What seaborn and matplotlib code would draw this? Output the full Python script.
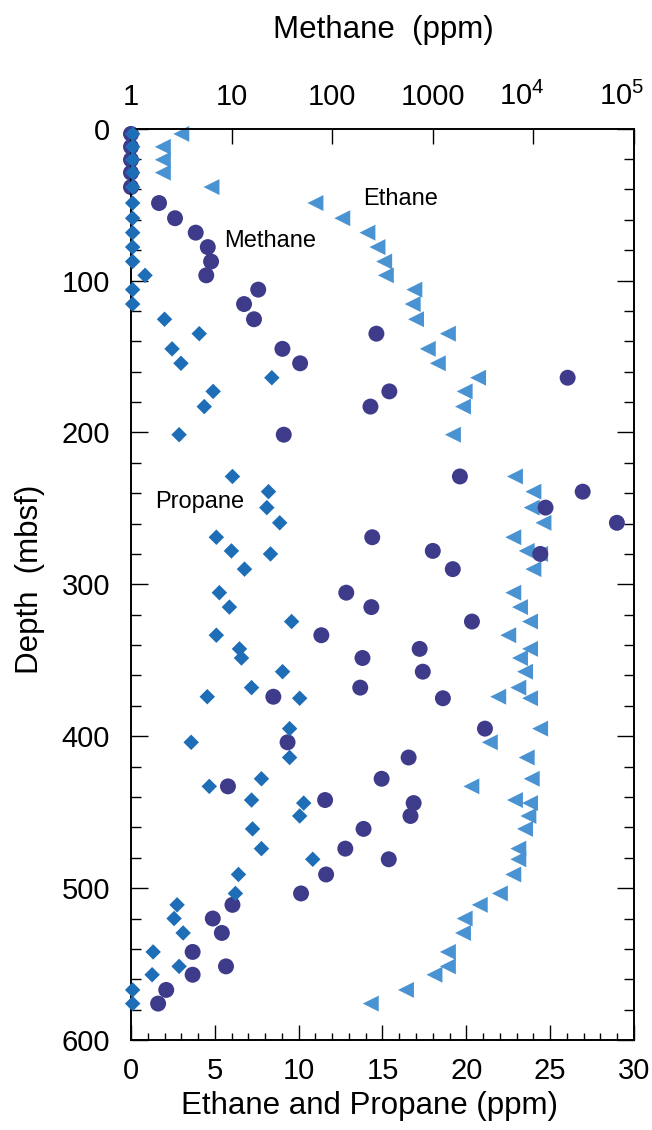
import numpy as np
import pandas as pd
import seaborn as sns
import matplotlib
matplotlib.use('Agg')
import matplotlib.pyplot as plt
from matplotlib.ticker import MultipleLocator, FixedLocator, FixedFormatter, LogLocator, NullFormatter
from matplotlib.transforms import ScaledTranslation

# depth of each sample (mbsf)
depth = [3.5, 12, 20.5, 29, 38.5, 49, 59, 68.5, 78, 87.5, 96.6, 106, 115.5, 125.5, 135,
         145, 154.5, 164, 173, 183, 201.5,
         229, 239, 249.5, 259.5, 269, 278, 280, 290,
         305.5, 315, 324.5, 333.5, 342.5, 348.5, 357.5, 368, 374, 375,
         395, 404, 414, 428, 433, 442, 444, 452.5,
         461, 474, 481, 491, 503.5, 511, 520, 529.5, 542, 551.5, 557, 567, 576]

# methane (ppm), top log axis
methane = [1, 1, 1, 1, 1, 1.9, 2.74, 4.4, 5.8, 6.25, 5.6, 18.4, 13.3, 16.7, 275,
           32, 48, 21900, 370, 240, 33,
           1860, 30900, 13200, 67600, 250, 1000, 11700, 1580,
           138, 245, 2450, 78, 740, 200, 795, 190, 26, 1260,
           3300, 36, 575, 310, 9.2, 85, 645, 600,
           205, 135, 365, 87, 49, 10.2, 6.5, 8.0, 4.1, 8.8, 4.1, 2.24, 1.86]

# ethane (ppm)
ethane = [3.0, 1.9, 1.9, 1.9, 4.8, 11.0, 12.6, 14.1, 14.7, 15.1, 15.2, 16.9, 16.8, 17.0, 18.9,
          17.7, 18.3, 20.7, 19.9, 19.8, 19.2,
          22.9, 24.0, 23.9, 24.6, 22.8, 23.6, 24.4, 24.0,
          22.8, 23.2, 23.8, 22.5, 23.8, 23.2, 23.5, 23.1, 21.9, 23.8,
          24.4, 21.4, 23.6, 23.9, 20.3, 22.9, 23.8, 23.7,
          23.5, 23.1, 23.1, 22.8, 22.0, 20.8, 19.9, 19.8, 18.9, 18.9, 18.1, 16.4, 14.3]

# propane (ppm)
propane = [0.1, 0.1, 0.1, 0.1, 0.1, 0.1, 0.1, 0.1, 0.1, 0.1, 0.84, 0.1, 0.1, 2.0, 4.07,
           2.45, 2.98, 8.4, 4.9, 4.37, 2.87,
           6.05, 8.2, 8.1, 8.87, 5.09, 5.99, 8.32, 6.77,
           5.27, 5.87, 9.58, 5.09, 6.47, 6.59, 9.04, 7.19, 4.55, 10.06,
           9.46, 3.59, 9.46, 7.78, 4.67, 7.19, 10.3, 10.06,
           7.25, 7.78, 10.84, 6.41, 6.23, 2.75, 2.57, 3.11, 1.32, 2.87, 1.26, 0.1, 0.1]

methane_ticks = [1, 10, 100, 1000, 1e4, 1e5]
methane_labels = ['1', '10', '100', '1000', '$10^4$', '$10^5$']

df = pd.DataFrame({'depth': depth, 'methane': methane,
                   'ethane': ethane, 'propane': propane})

sns.set_style('ticks')
plt.rcParams['font.family'] = ['Liberation Sans', 'DejaVu Sans']
plt.rcParams['mathtext.default'] = 'regular'
for k in ['text.color', 'axes.labelcolor', 'xtick.color', 'ytick.color']:
    plt.rcParams[k] = 'black'

fig = plt.figure(figsize=(6.52, 11.30), dpi=100)
ax = fig.add_axes([0.2009, 0.0796, 0.7715, 0.8066])
ax2 = ax.twiny()
ax2.set_xscale('log')
ax2.set_xlim(1, 1e5)
# extra overlay so the diamonds sit on top of the circles
ax3 = fig.add_axes(ax.get_position(), sharex=ax, sharey=ax)

sns.scatterplot(data=df, x='ethane', y='depth', marker='<', s=132, color='#4a93d3',
                edgecolor='none', linewidth=0, ax=ax, clip_on=False)
sns.scatterplot(data=df, x='methane', y='depth', marker='o', s=132, color='#3f3b8b',
                edgecolor='none', linewidth=0, ax=ax2, clip_on=False)
sns.scatterplot(data=df, x='propane', y='depth', marker='D', s=62, color='#1d6db7',
                edgecolor='none', linewidth=0, ax=ax3, clip_on=False)

ax.set_xlim(0, 30)
ax.set_ylim(600, 0)
ax.xaxis.set_major_locator(MultipleLocator(5))
ax.xaxis.set_minor_locator(MultipleLocator(1))
ax.yaxis.set_major_locator(MultipleLocator(100))
ax.yaxis.set_minor_locator(MultipleLocator(20))
ax.tick_params(which='both', direction='in', top=False, right=True, bottom=True, left=True,
               color='black', width=1)
ax.tick_params(axis='x', which='major', length=11, pad=12, labelsize=21)
ax.tick_params(axis='x', which='minor', length=5)
ax.tick_params(axis='y', which='major', length=12, pad=15, labelsize=21)
ax.tick_params(axis='y', which='minor', length=7)

ax2.set_xlim(1, 1e5)
ax2.xaxis.set_major_locator(FixedLocator(methane_ticks))
ax2.xaxis.set_major_formatter(FixedFormatter(methane_labels))
ax2.xaxis.set_minor_locator(LogLocator(base=10, subs=np.arange(2, 10)))
ax2.xaxis.set_minor_formatter(NullFormatter())
ax2.tick_params(which='both', direction='in', top=True, bottom=False, color='black', width=1)
ax2.tick_params(axis='x', which='major', length=11, pad=13, labelsize=21)
ax2.tick_params(axis='x', which='minor', length=6)
ax2.set_ylabel('')

# the power-of-ten labels sit a little left of their ticks in the original
for tk in ax2.xaxis.get_major_ticks()[4:]:
    tk.label2.set_transform(tk.label2.get_transform() +
                            ScaledTranslation(-0.12, 0, fig.dpi_scale_trans))

ax3.axis('off')

for a in (ax, ax2):
    for sp in a.spines.values():
        sp.set_visible(True)
        sp.set_color('black')
        sp.set_linewidth(1.2)

ax.set_xlabel('Ethane and Propane (ppm)', fontsize=22.5)
ax.xaxis.set_label_coords(0.475, -0.056)
ax2.set_xlabel('Methane  (ppm)', fontsize=22.5)
ax2.xaxis.set_label_coords(0.501, 1.099)
ax.set_ylabel('Depth  (mbsf)', fontsize=22.5)
ax.yaxis.set_label_coords(-0.171, 0.505)

ax.text(5.57, 74, 'Methane', fontsize=17, ha='left', va='center')
ax.text(13.83, 46.5, 'Ethane', fontsize=17, ha='left', va='center')
ax.text(1.44, 245.5, 'Propane', fontsize=17, ha='left', va='center')

fig.savefig('out.png', dpi=100)
